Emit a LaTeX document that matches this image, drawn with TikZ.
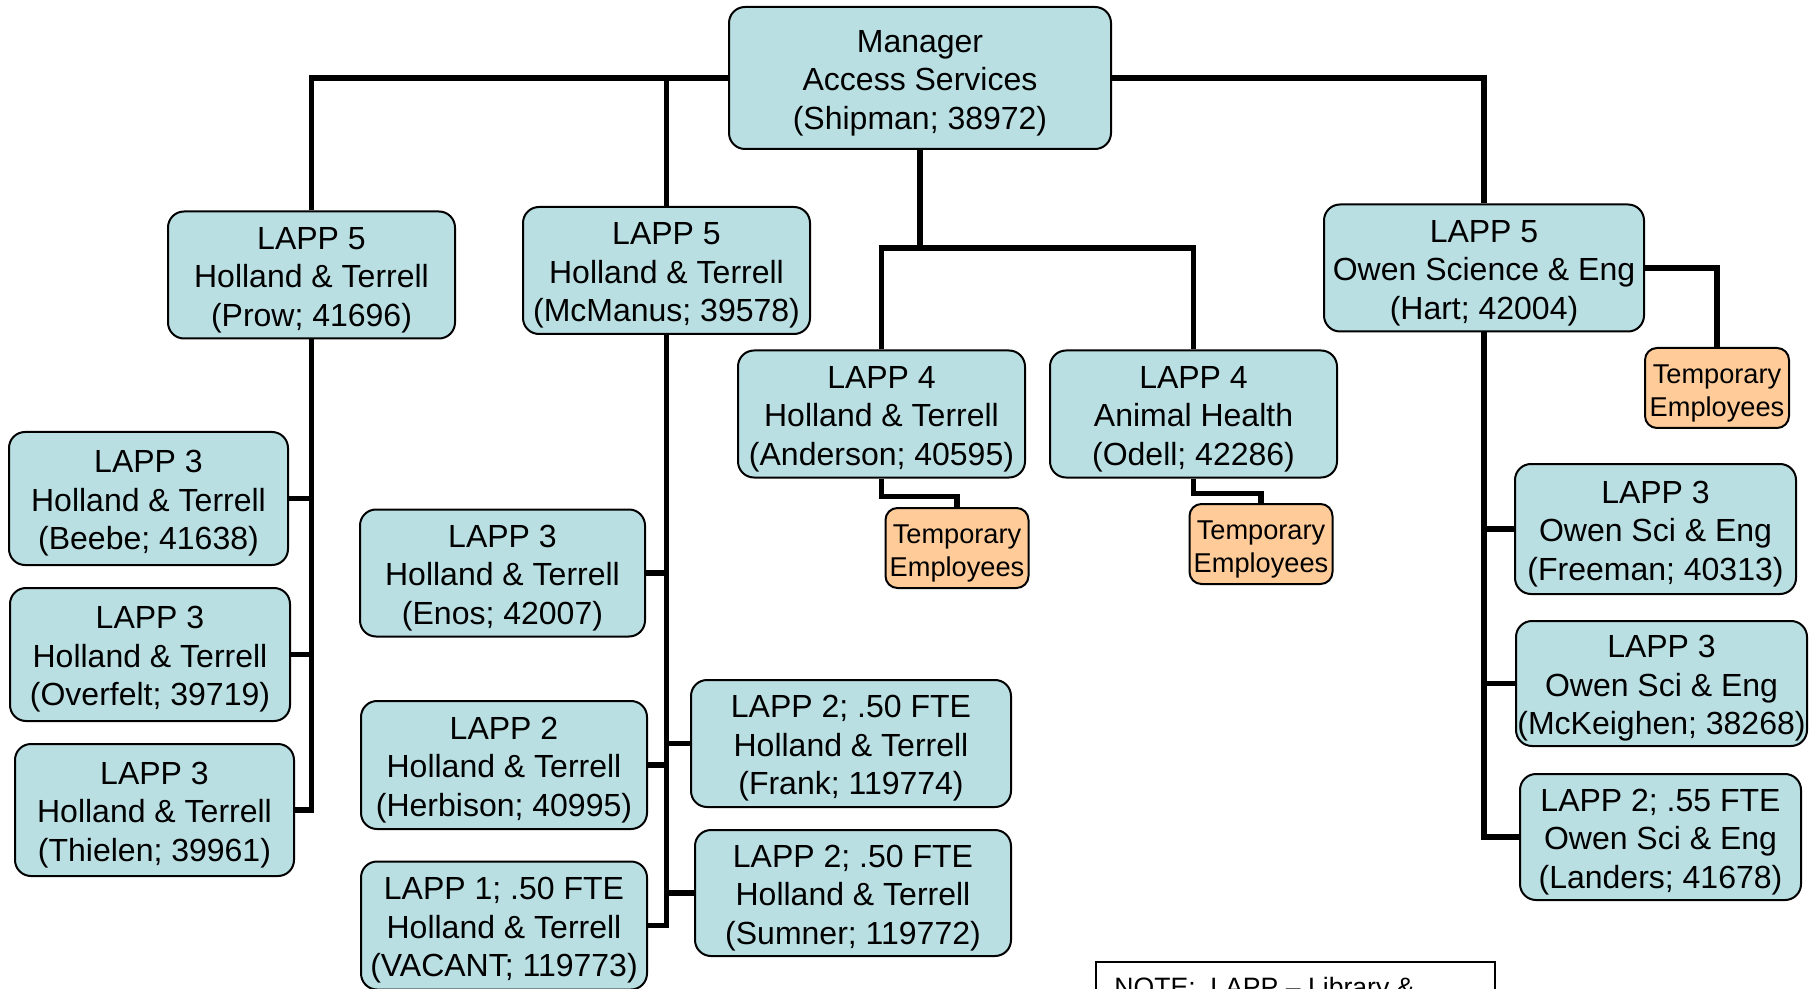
\documentclass[tikz,border=0pt]{standalone}
\usepackage{fontspec}
\setmainfont{Liberation Sans}
\usepackage{tikz}
\definecolor{boxblue}{RGB}{185,223,227}
\definecolor{boxpeach}{RGB}{255,204,153}

\begin{document}
\begin{tikzpicture}[x=0.5pt,y=-0.5pt,
    unit/.style={draw=black,line width=1pt,align=center,inner sep=0pt},
    post/.style={unit,rounded corners=8pt,fill=boxblue,
      minimum width=143.5pt,minimum height=63.5pt,
      font=\fontsize{16}{19.3}\selectfont,
      execute at begin node={\rule{0pt}{54.7pt}}},
    temp/.style={unit,fill=boxpeach,minimum width=71.5pt,minimum height=40pt,
      rounded corners=6pt,font=\fontsize{13.6}{16.2}\selectfont,
      execute at begin node={\rule{0pt}{31pt}}},
    link/.style={line width=2.8pt}]
  \useasboundingbox (0,0) rectangle (1820,989);
  \clip (0,0) rectangle (1820,989);

  % top
  \node [post,minimum width=191pt,minimum height=71pt] (mgr) at (920,78)
    {Manager\\Access Services\\(Shipman; 38972)};

  % LAPP 5
  \node [post] (prow) at (311.5,275) {LAPP 5\\Holland \& Terrell\\(Prow; 41696)};
  \node [post] (mcm) at (666.5,270.5) {LAPP 5\\Holland \& Terrell\\(McManus; 39578)};
  \node [post,minimum width=160pt] (hart) at (1484,268)
    {LAPP 5\\Owen Science \& Eng\\(Hart; 42004)};

  % LAPP 4
  \node [post] (and) at (881.5,414) {LAPP 4\\Holland \& Terrell\\(Anderson; 40595)};
  \node [post] (odl) at (1193.5,414) {LAPP 4\\Animal Health\\(Odell; 42286)};

  % temporaries
  \node [temp,minimum width=72pt] (tmpH) at (1717,388) {Temporary\\Employees};
  \node [temp] (tmpA) at (957,548) {Temporary\\Employees};
  \node [temp] (tmpO) at (1261,544) {Temporary\\Employees};

  % under Prow
  \node [post,minimum width=139.5pt,minimum height=66.5pt] (beebe) at (148.5,498.5)
    {LAPP 3\\Holland \& Terrell\\(Beebe; 41638)};
  \node [post,minimum width=140pt,minimum height=66.5pt] (ovf) at (150,654.5)
    {LAPP 3\\Holland \& Terrell\\(Overfelt; 39719)};
  \node [post,minimum width=139.5pt,minimum height=66pt] (thl) at (154.5,810)
    {LAPP 3\\Holland \& Terrell\\(Thielen; 39961)};

  % under McManus
  \node [post,minimum width=142.5pt] (enos) at (502.5,573)
    {LAPP 3\\Holland \& Terrell\\(Enos; 42007)};
  \node [post,minimum width=143pt,minimum height=64pt] (herb) at (504,765)
    {LAPP 2\\Holland \& Terrell\\(Herbison; 40995)};
  \node [post,minimum width=143pt,minimum height=64pt] (vac) at (504,925.5)
    {LAPP 1; .50 FTE\\Holland \& Terrell\\(VACANT; 119773)};
  \node [post,minimum width=160pt] (frank) at (851,743.5)
    {LAPP 2; .50 FTE\\Holland \& Terrell\\(Frank; 119774)};
  \node [post,minimum width=158pt,minimum height=63pt] (sum) at (853,893)
    {LAPP 2; .50 FTE\\Holland \& Terrell\\(Sumner; 119772)};

  % under Hart
  \node [post,minimum width=140.5pt,minimum height=65pt] (free) at (1655.5,529)
    {LAPP 3\\Owen Sci \& Eng\\(Freeman; 40313)};
  \node [post,minimum width=145.5pt,minimum height=62.5pt] (mck) at (1661.5,683.5)
    {LAPP 3\\Owen Sci \& Eng\\(McKeighen; 38268)};
  \node [post,minimum width=140.5pt,minimum height=63pt] (land) at (1660.5,837)
    {LAPP 2; .55 FTE\\Owen Sci \& Eng\\(Landers; 41678)};

  % note
  \node [draw,line width=1pt,anchor=north west,inner sep=0pt,
         minimum width=199.5pt,minimum height=40pt] (note) at (1095,961) {};
  \node [anchor=base west,inner sep=0pt,font=\fontsize{13.3}{15}\selectfont]
    (notetxt) at (1114,996) {NOTE:\ \ LAPP -- Library \&};

  % lines
  \begin{scope}[link]
    \draw (mgr.west) -| (prow.north);
    \draw (mgr.west) -| (mcm.north);
    \draw (mgr.east) -| (hart.north);
    \coordinate (lvl4) at (920,248);
    \draw (mgr.south) -- (lvl4);
    \draw (and.north) |- (lvl4) -| (odl.north);
    \draw (hart.east) -| (tmpH.north);
    \draw (and.south) -- ++(0,18) -| (tmpA.north);
    \draw (odl.south) -- ++(0,15) -| (tmpO.north);
    \foreach \n in {beebe,ovf,thl}
      \draw (prow.south) |- (\n.east);
    \foreach \n in {enos,herb,vac}
      \draw (mcm.south) |- (\n.east);
    \foreach \n in {frank,sum}
      \draw (mcm.south) |- (\n.west);
    \foreach \n in {free,mck,land}
      \draw (hart.south) |- (\n.west);
  \end{scope}
\end{tikzpicture}
\end{document}
